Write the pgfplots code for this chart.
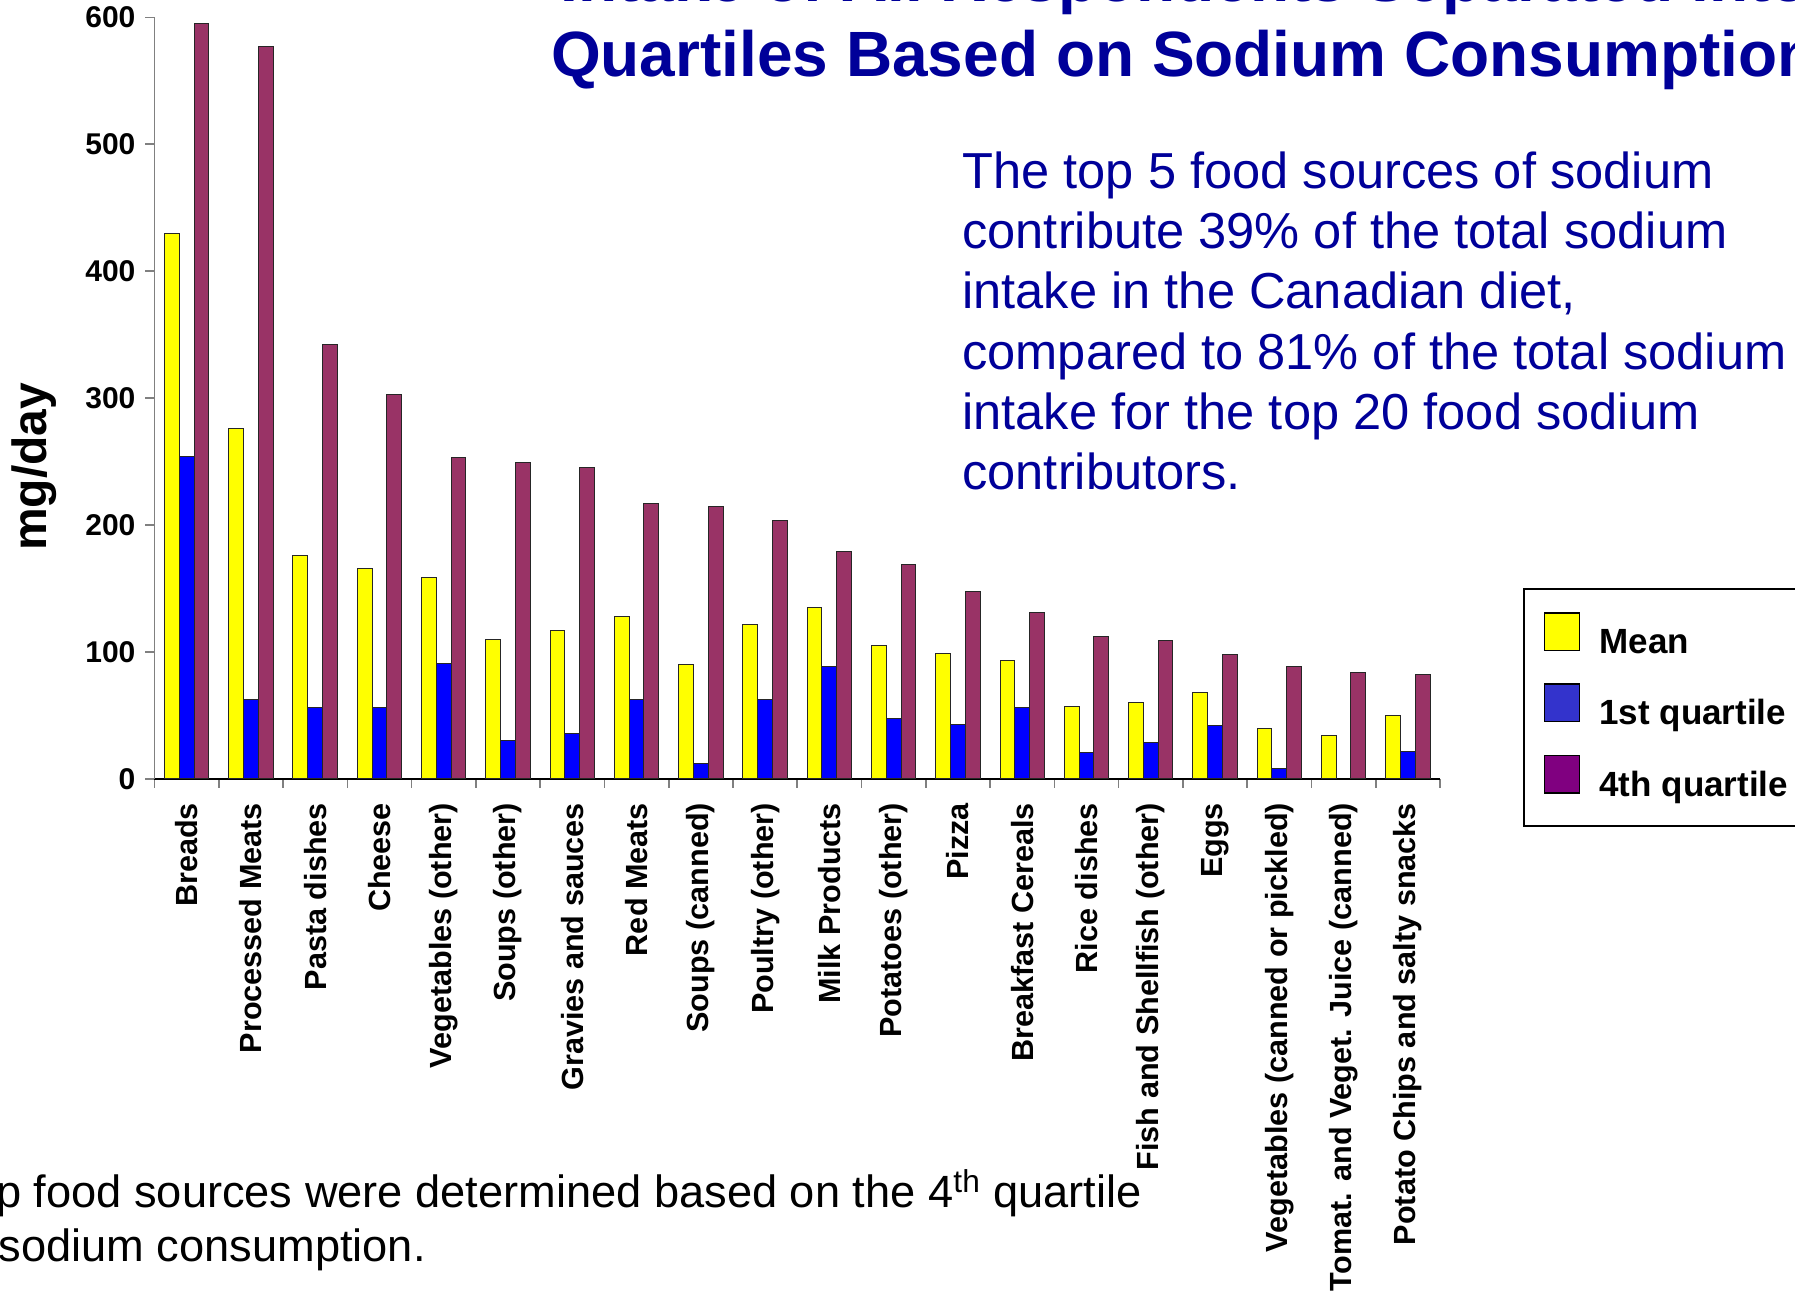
\documentclass[border=0pt]{standalone}
\usepackage{fontspec}
\setmainfont{Liberation Sans}
\usepackage{pgfplots}
\pgfplotsset{compat=1.18}
\definecolor{titleblue}{HTML}{000099}
\definecolor{meanyellow}{HTML}{FFFF00}
\definecolor{qoneblue}{HTML}{0000FF}
\definecolor{qfour}{HTML}{993366}
\definecolor{legblue}{HTML}{3333CC}
\definecolor{legpurple}{HTML}{800080}
\definecolor{axisgray}{HTML}{808080}

\pgfplotstableread{
x mean q1 q4
0 430 254 595
1 276 63 577
2 176 56 342
3 166 56 303
4 159 91 253
5 110 30 249
6 117 36 245
7 128 63 217
8 90 12 215
9 122 63 204
10 135 89 179
11 105 48 169
12 99 43 148
13 93 56 131
14 57 21 112
15 60 29 109
16 68 42 98
17 40 8 89
18 34 nan 84
19 50 22 82
}\datatable

\begin{document}
\begin{tikzpicture}
\useasboundingbox (0,0) rectangle (897.5pt,647pt);
\clip (0,0) rectangle (897.5pt,647pt);
\begin{axis}[
  at={(77.25pt,257.5pt)}, anchor=south west,
  scale only axis, width=642.75pt, height=380.85pt,
  xmin=-0.5, xmax=19.5, ymin=0, ymax=600,
  axis x line*=bottom, axis y line*=left,
  x axis line style={draw=black,-,line width=0.8pt},
  y axis line style={draw=axisgray,-,line width=0.8pt},
  ybar=0pt, bar width=7.4pt,
  ytick={0,100,...,600},
  xtick={0,...,19},
  minor xtick={-0.5,0.5,...,19.5},
  tick align=outside,
  major tick length=4.5pt, minor tick length=4.5pt,
  major x tick style={draw=none},
  minor x tick style={draw=axisgray,line width=0.8pt},
  y tick style={draw=axisgray,line width=0.8pt},
  /pgf/number format/assume math mode=true,
  yticklabel style={xshift=-1.5pt, font=\bfseries\fontsize{15}{18}\selectfont},
  xticklabel style={rotate=90, anchor=east, yshift=0pt, xshift=-4pt, font=\bfseries\fontsize{15.3}{18}\selectfont},
  xticklabels={Breads,Processed Meats,Pasta dishes,Cheese,Vegetables (other),Soups (other),Gravies and sauces,Red Meats,Soups (canned),Poultry (other),Milk Products,Potatoes (other),Pizza,Breakfast Cereals,Rice dishes,Fish and Shellfish (other),Eggs,Vegetables (canned or pickled),Tomat. and Veget. Juice (canned),Potato Chips and salty snacks},
  ylabel={mg/day},
  ylabel style={at={(axis description cs:-0.0937,0.41)}, anchor=center, font=\bfseries\fontsize{24}{28}\selectfont},
  legend style={at={(1.0643,0.2508)}, anchor=north west, draw=black, line width=1pt, fill=white,
    font=\bfseries\fontsize{17.5}{20}\selectfont, row sep=11.5pt, column sep=7.5pt, inner xsep=10pt, inner ysep=11.5pt},
  legend cell align=left,
]
\addplot[forget plot, bar shift=-7.4pt, fill=meanyellow, draw=black!85, line width=0.5pt] table[x=x,y=mean]{\datatable};
\addplot[forget plot, bar shift=0pt, fill=qoneblue, draw=black!85, line width=0.5pt] table[x=x,y=q1]{\datatable};
\addplot[forget plot, bar shift=7.4pt, fill=qfour, draw=black!85, line width=0.5pt] table[x=x,y=q4]{\datatable};
\addlegendimage{legend image code/.code={\draw[fill=meanyellow,draw=black,line width=0.9pt] (0pt,-4pt) rectangle (17.5pt,14.8pt);}}
\addlegendentry{Mean}
\addlegendimage{legend image code/.code={\draw[fill=legblue,draw=black,line width=0.9pt] (0pt,-4pt) rectangle (17.5pt,14.8pt);}}
\addlegendentry{1st quartile}
\addlegendimage{legend image code/.code={\draw[fill=legpurple,draw=black,line width=0.9pt] (0pt,-4pt) rectangle (17.5pt,14.8pt);}}
\addlegendentry{4th quartile}
\end{axis}
% title
\node[anchor=base west, inner sep=0pt, text=titleblue, font=\bfseries\fontsize{32}{38}\selectfont] at (280pt,646pt) {Intake of All Respondents Separated into};
\node[anchor=base west, inner sep=0pt, text=titleblue, font=\bfseries\fontsize{32}{38}\selectfont] at (275.3pt,608.5pt) {Quartiles Based on Sodium Consumption};
% annotation
\begin{scope}[every node/.style={anchor=base west, inner sep=0pt, text=titleblue, font=\fontsize{25.3}{30}\selectfont}]
\node at (481pt,552.85pt) {The top 5 food sources of sodium};
\node at (481pt,522.7pt) {contribute 39\% of the total sodium};
\node at (481pt,492.55pt) {intake in the Canadian diet,};
\node at (481pt,462.4pt) {compared to 81\% of the total sodium};
\node at (481pt,432.25pt) {intake for the top 20 food sodium};
\node at (481pt,402.1pt) {contributors.};
\end{scope}
% footnote
\begin{scope}[every node/.style={anchor=base west, inner sep=0pt, text=black, font=\fontsize{22.6}{27}\selectfont}]
\node at (-26pt,43pt) {Top food sources were determined based on the 4\textsuperscript{th} quartile};
\node at (-26pt,16.15pt) {of sodium consumption.};
\end{scope}
\end{tikzpicture}
\end{document}
